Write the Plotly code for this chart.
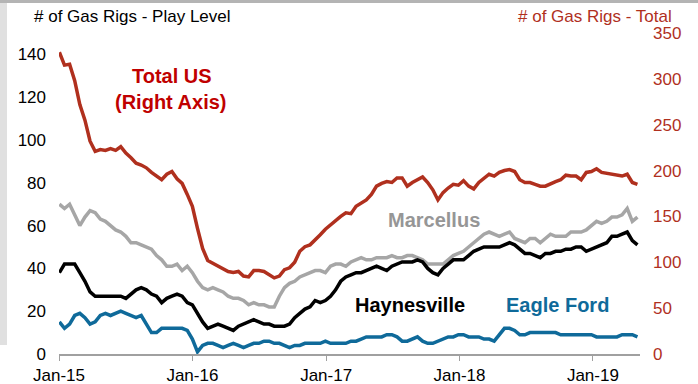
import pandas as pd
import plotly.graph_objects as go

# biweekly observations, Jan-2015 .. May-2019
dates = pd.date_range("2015-01-02", periods=114, freq="14D")

total_us = [
    329, 315, 316, 298, 272, 255, 232, 221, 223, 222, 224, 222, 226, 219, 214, 208,
    206, 203, 198, 194, 190, 196, 199, 191, 186, 174, 161, 137, 115, 102, 99, 95,
    92, 90, 89, 90, 85, 84, 91, 91, 90, 86, 83, 85, 92, 94, 100, 112,
    117, 119, 124, 130, 136, 141, 145, 150, 154, 153, 161, 164, 168, 174, 183, 186,
    188, 187, 192, 192, 183, 187, 190, 193, 187, 179, 168, 176, 181, 185, 184, 189,
    183, 180, 187, 192, 196, 194, 198, 200, 201, 199, 190, 187, 187, 185, 183, 183,
    186, 188, 190, 195, 194, 194, 190, 198, 199, 202, 198, 197, 196, 195, 194, 196,
    187, 185,
]

marcellus = [
    70, 68, 70, 65, 60, 64, 67, 66, 63, 62, 60, 58, 57, 55, 52, 52,
    51, 50, 49, 46, 44, 41, 41, 42, 39, 41, 38, 34, 31, 30, 31, 30,
    29, 27, 26, 26, 25, 23, 24, 23, 23, 22, 22, 27, 31, 33, 34, 36,
    37, 38, 39, 39, 38, 41, 42, 42, 41, 43, 44, 45, 44, 44, 45, 45,
    45, 46, 45, 45, 46, 46, 45, 44, 42, 42, 42, 42, 44, 46, 47, 48,
    50, 52, 54, 56, 57, 56, 55, 56, 57, 54, 53, 52, 54, 54, 52, 54,
    56, 55, 55, 55, 57, 57, 57, 58, 60, 62, 61, 62, 64, 64, 65, 68,
    62, 64,
]

haynesville = [
    38, 42, 42, 42, 38, 34, 29, 27, 27, 27, 27, 27, 27, 26, 28, 30,
    31, 30, 28, 27, 24, 26, 27, 28, 27, 24, 23, 19, 15, 12, 13, 14,
    13, 12, 11, 13, 14, 15, 16, 15, 14, 14, 13, 13, 13, 14, 17, 19,
    21, 22, 25, 24, 25, 27, 30, 34, 36, 37, 38, 38, 39, 40, 41, 40,
    39, 41, 42, 43, 43, 43, 44, 43, 40, 38, 37, 40, 42, 44, 44, 44,
    46, 48, 49, 50, 50, 50, 50, 51, 52, 51, 49, 47, 47, 46, 45, 47,
    47, 48, 48, 49, 49, 50, 50, 48, 49, 50, 51, 52, 55, 55, 56, 57,
    53, 51,
]

eagle_ford = [
    15, 12, 14, 18, 19, 17, 14, 15, 18, 19, 18, 19, 20, 19, 18, 17,
    18, 14, 10, 10, 12, 12, 12, 12, 12, 11, 7, 1, 4, 5, 5, 4,
    3, 4, 5, 4, 3, 4, 5, 5, 6, 6, 5, 5, 4, 3, 4, 4,
    5, 5, 5, 5, 6, 5, 5, 5, 5, 6, 6, 7, 8, 8, 8, 8,
    9, 9, 8, 6, 6, 7, 8, 6, 5, 5, 6, 7, 8, 8, 9, 9,
    8, 8, 8, 7, 7, 6, 9, 12, 12, 11, 9, 9, 10, 10, 10, 10,
    10, 10, 9, 9, 9, 9, 9, 9, 9, 8, 8, 8, 8, 8, 9, 9,
    9, 8,
]

left_ticks = [0, 20, 40, 60, 80, 100, 120, 140]
right_ticks = [0, 50, 100, 150, 200, 250, 300, 350]
x_ticks = ["2015-01-01", "2016-01-01", "2017-01-01", "2018-01-01", "2019-01-01"]

W, H = 698, 384
ML, MR, MT, MB = 59, 58, 33, 30
PW, PH = W - ML - MR, H - MT - MB


def px(x):
    return (x - ML) / PW


def py(y):
    return (H - MB - y) / PH


FONT = "Liberation Sans, Arial, sans-serif"
RED_LINE = "#B0301E"

fig = go.Figure()

fig.add_trace(go.Scatter(x=dates, y=marcellus, mode="lines", name="Marcellus",
                         line=dict(color="#A6A6A6", width=3.5)))
fig.add_trace(go.Scatter(x=dates, y=haynesville, mode="lines", name="Haynesville",
                         line=dict(color="#000000", width=3.5)))
fig.add_trace(go.Scatter(x=dates, y=eagle_ford, mode="lines", name="Eagle Ford",
                         line=dict(color="#0F6A9A", width=3.5)))
fig.add_trace(go.Scatter(x=dates, y=total_us, mode="lines", name="Total US",
                         yaxis="y2", line=dict(color=RED_LINE, width=3.5)))

labels = [
    ("<b>Total US</b>", 172, 76, "#C00000"),
    ("<b>(Right Axis)</b>", 170, 102, "#C00000"),
    ("<b>Marcellus</b>", 434, 220, "#969696"),
    ("<b>Haynesville</b>", 410, 305, "#000000"),
    ("<b>Eagle Ford</b>", 557, 305, "#0F6A9A"),
]
annotations = [
    dict(text=t, x=px(x), y=py(y), xref="paper", yref="paper", showarrow=False,
         xanchor="center", yanchor="middle", font=dict(size=20, color=c, family=FONT))
    for t, x, y, c in labels
]
annotations += [
    dict(text="# of Gas Rigs - Play Level", x=px(32), y=py(16), xref="paper", yref="paper",
         showarrow=False, xanchor="left", yanchor="middle",
         font=dict(size=17, color="#000000", family=FONT)),
    dict(text="# of Gas Rigs - Total", x=px(674), y=py(16), xref="paper", yref="paper",
         showarrow=False, xanchor="right", yanchor="middle",
         font=dict(size=17, color=RED_LINE, family=FONT)),
]

shapes = [
    # light frame remnants of the original slide
    dict(type="rect", xref="paper", yref="paper", x0=px(0), x1=px(W), y0=py(3), y1=py(0),
         fillcolor="#B4B4B4", line=dict(width=0), layer="below"),
    dict(type="rect", xref="paper", yref="paper", x0=px(0), x1=px(7), y0=py(345), y1=py(3),
         fillcolor="#E0E0E0", line=dict(width=0), layer="below"),
]

fig.update_layout(
    width=W,
    height=H,
    margin=dict(l=ML, r=MR, t=MT, b=MB),
    plot_bgcolor="white",
    paper_bgcolor="white",
    showlegend=False,
    font=dict(family=FONT, size=17, color="#000000"),
    annotations=annotations,
    shapes=shapes,
    xaxis=dict(
        range=["2015-01-01", "2019-05-10"],
        tickvals=x_ticks,
        tickformat="%b-%y",
        ticks="outside",
        ticklen=5,
        tickcolor="#A0A0A0",
        showline=True,
        linecolor="#A0A0A0",
        linewidth=1.5,
        showgrid=False,
        zeroline=False,
        automargin=False,
        tickfont=dict(size=17, color="#000000"),
    ),
    yaxis=dict(
        range=[0, 150],
        tickvals=left_ticks,
        showgrid=False,
        zeroline=False,
        showline=False,
        automargin=False,
        ticklabelstandoff=12,
        tickfont=dict(size=17, color="#000000"),
    ),
    yaxis2=dict(
        range=[0, 350],
        tickvals=right_ticks,
        overlaying="y",
        side="right",
        showgrid=False,
        zeroline=False,
        showline=False,
        automargin=False,
        ticklabelstandoff=12,
        tickfont=dict(size=17, color=RED_LINE),
    ),
)

# the page's default body margin would push the fixed-size figure off by 8px
fig.write_html("out.html", config={"displayModeBar": False},
               post_script="document.body.style.margin='0';")
